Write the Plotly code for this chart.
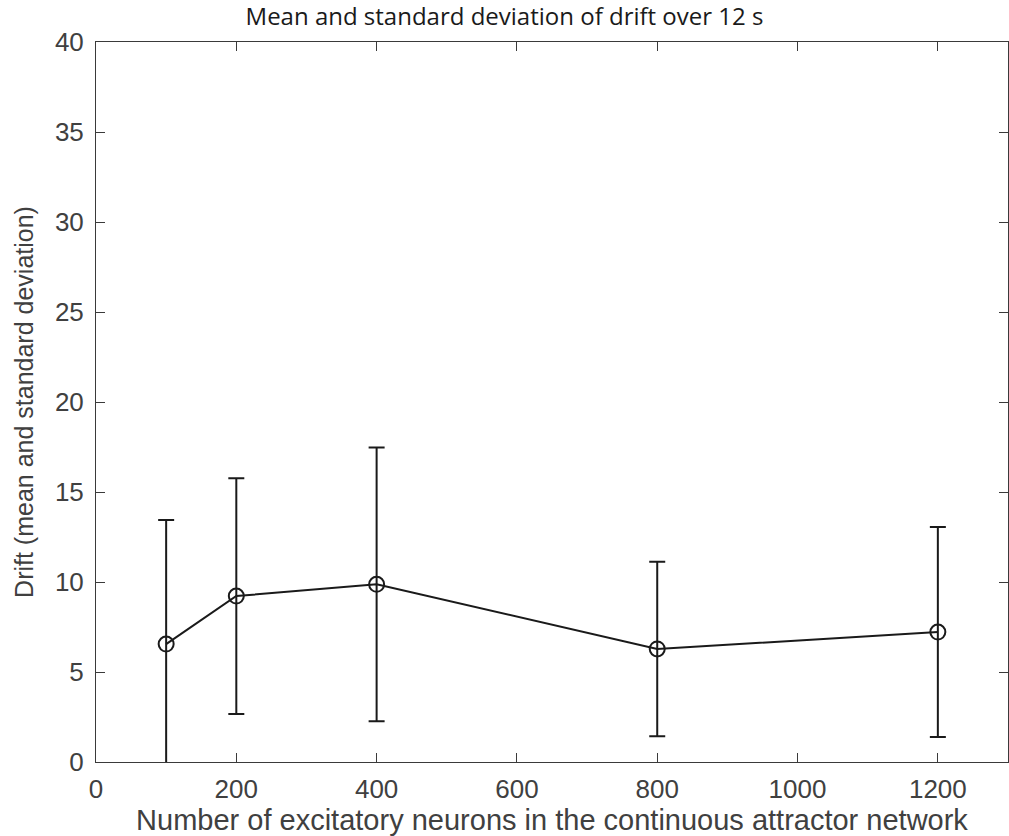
import plotly.graph_objects as go

neurons = [100, 200, 400, 800, 1200]
drift_mean = [6.55, 9.22, 9.87, 6.28, 7.22]
drift_sd = [6.9, 6.55, 7.6, 4.85, 5.83]

x_ticks = [0, 200, 400, 600, 800, 1000, 1200]
y_ticks = [0, 5, 10, 15, 20, 25, 30, 35, 40]

axis_col = "#3a3a3a"
text_col = "#404040"
line_col = "#1a1a1a"

fig = go.Figure()
fig.add_trace(go.Scatter(
    x=neurons, y=drift_mean,
    mode="lines+markers",
    line=dict(color=line_col, width=2),
    marker=dict(symbol="circle-open", size=15, color=line_col, line=dict(width=2)),
    error_y=dict(type="data", array=drift_sd, visible=True, color=line_col, thickness=2, width=8),
    showlegend=False,
))

font_family = "Liberation Sans, Arial, Helvetica, sans-serif"

fig.update_layout(
    width=1009, height=836,
    margin=dict(l=96, r=1, t=42, b=74),
    paper_bgcolor="white", plot_bgcolor="white",
    title=dict(text="Mean and standard deviation of drift over 12 s",
               x=0.5, xref="container", xanchor="center",
               y=1 - 17 / 836, yref="container", yanchor="middle",
               font=dict(family="Open Sans, sans-serif", size=24, color="#1a1a1a")),
    font=dict(family=font_family, color=text_col),
)
fig.update_xaxes(
    range=[0, 1300], tickvals=x_ticks, ticktext=[str(v) for v in x_ticks],
    ticks="inside", ticklen=9, tickwidth=1, tickcolor=axis_col,
    showline=True, linecolor=axis_col, linewidth=1, mirror="ticks",
    showgrid=False, zeroline=False, automargin=False,
    ticklabelstandoff=4,
    tickfont=dict(size=26, color=text_col, family=font_family),
    title=dict(text="Number of excitatory neurons in the continuous attractor network",
               font=dict(size=29, color=text_col, family=font_family), standoff=0),
)
fig.update_yaxes(
    range=[0, 40], tickvals=y_ticks, ticktext=[str(v) for v in y_ticks],
    ticks="inside", ticklen=9, tickwidth=1, tickcolor=axis_col,
    showline=True, linecolor=axis_col, linewidth=1, mirror="ticks",
    showgrid=False, zeroline=False, automargin=False,
    ticklabelstandoff=6,
    tickfont=dict(size=26, color=text_col, family=font_family),
    title=dict(text="Drift (mean and standard deviation)",
               font=dict(size=25, color=text_col, family=font_family), standoff=14),
)

fig.write_html("out.html")
